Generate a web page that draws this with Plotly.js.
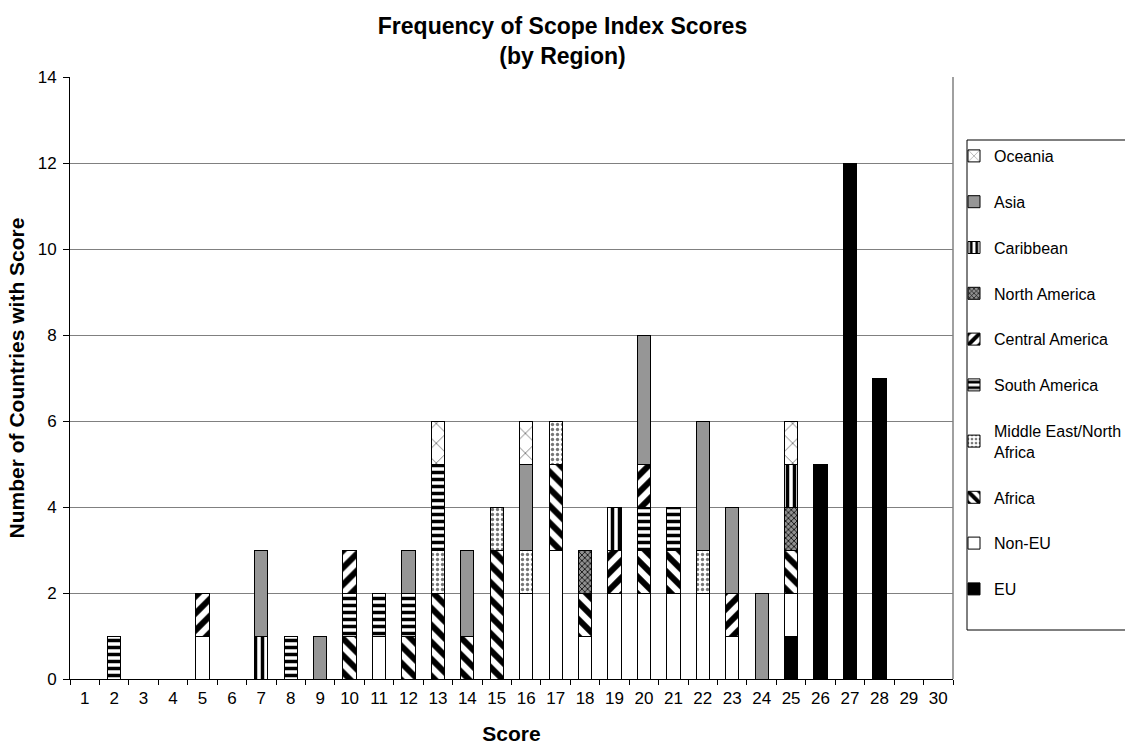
<!DOCTYPE html>
<html>
<head>
<meta charset="utf-8">
<script src="https://cdn.plot.ly/plotly-3.0.1.min.js"></script>
<style>html,body{margin:0;padding:0;background:#fff;}#chart{width:1125px;height:745px;}</style>
</head>
<body>
<div id="chart"></div>
<script>
// Scores 1..30
const scores = ['1','2','3','4','5','6','7','8','9','10','11','12','13','14','15','16','17','18','19','20','21','22','23','24','25','26','27','28','29','30'];
//                    1 2 3 4 5 6 7 8 9 10 11 12 13 14 15 16 17 18 19 20 21 22 23 24 25 26 27 28 29 30
const eu        = [0,0,0,0,0,0,0,0,0, 0, 0, 0, 0, 0, 0, 0, 0, 0, 0, 0, 0, 0, 0, 0, 1, 5,12, 7, 0, 0];
const nonEU     = [0,0,0,0,1,0,0,0,0, 0, 1, 0, 0, 0, 0, 2, 3, 1, 2, 2, 2, 2, 1, 0, 1, 0, 0, 0, 0, 0];
const africa    = [0,0,0,0,0,0,0,0,0, 1, 0, 1, 2, 1, 3, 0, 2, 1, 0, 1, 1, 0, 0, 0, 1, 0, 0, 0, 0, 0];
const mena      = [0,0,0,0,0,0,0,0,0, 0, 0, 0, 1, 0, 1, 1, 1, 0, 0, 0, 0, 1, 0, 0, 0, 0, 0, 0, 0, 0];
const southAm   = [0,1,0,0,0,0,0,1,0, 1, 1, 1, 2, 0, 0, 0, 0, 0, 0, 1, 1, 0, 0, 0, 0, 0, 0, 0, 0, 0];
const centralAm = [0,0,0,0,1,0,0,0,0, 1, 0, 0, 0, 0, 0, 0, 0, 0, 1, 1, 0, 0, 1, 0, 0, 0, 0, 0, 0, 0];
const northAm   = [0,0,0,0,0,0,0,0,0, 0, 0, 0, 0, 0, 0, 0, 0, 1, 0, 0, 0, 0, 0, 0, 1, 0, 0, 0, 0, 0];
const caribbean = [0,0,0,0,0,0,1,0,0, 0, 0, 0, 0, 0, 0, 0, 0, 0, 1, 0, 0, 0, 0, 0, 1, 0, 0, 0, 0, 0];
const asia      = [0,0,0,0,0,0,2,0,1, 0, 0, 1, 0, 2, 0, 2, 0, 0, 0, 3, 0, 3, 2, 2, 0, 0, 0, 0, 0, 0];
const oceania   = [0,0,0,0,0,0,0,0,0, 0, 0, 0, 1, 0, 0, 1, 0, 0, 0, 0, 0, 0, 0, 0, 1, 0, 0, 0, 0, 0];
const yTicks = [0,2,4,6,8,10,12,14];

const FONT = 'Liberation Sans, Arial, sans-serif';
const nz = a => a.map(v => v === 0 ? null : v);

const series = [
  {name:'EU', y:eu, color:'#000000'},
  {name:'Non-EU', y:nonEU, color:'#ffffff'},
  {name:'Africa', y:africa, color:'#ffffff', pattern:{shape:'\\', fgcolor:'#000', fgopacity:1, size:12, solidity:0.5, fillmode:'overlay'}},
  {name:'Middle East/North<br>Africa', y:mena, color:'#ffffff', pattern:{shape:'.', fgcolor:'#777', fgopacity:1, size:5, solidity:0.35, fillmode:'overlay'}},
  {name:'South America', y:southAm, color:'#ffffff', pattern:{shape:'-', fgcolor:'#000', fgopacity:1, size:7, solidity:0.5, fillmode:'overlay'}},
  {name:'Central America', y:centralAm, color:'#ffffff', pattern:{shape:'/', fgcolor:'#000', fgopacity:1, size:12, solidity:0.5, fillmode:'overlay'}},
  {name:'North America', y:northAm, color:'#909090', pattern:{shape:'x', fgcolor:'#000', fgopacity:1, size:4, solidity:0.35, fillmode:'overlay'}},
  {name:'Caribbean', y:caribbean, color:'#ffffff', pattern:{shape:'|', fgcolor:'#000', fgopacity:1, size:7, solidity:0.5, fillmode:'overlay'}},
  {name:'Asia', y:asia, color:'#969696'},
  {name:'Oceania', y:oceania, color:'#ffffff', pattern:{shape:'x', fgcolor:'#555', fgopacity:1, size:14, solidity:0.1, fillmode:'overlay'}}
];

const traces = series.map((s, i) => {
  const m = {color:s.color, line:{color:'#000', width:1}};
  if (s.pattern) m.pattern = s.pattern;
  return {type:'bar', name:s.name, x:scores, y:nz(s.y), marker:m, legendgroup:'g'+i,
          legendrank:1000 - i, hoverinfo:'name+y'};
});

const W = 1125, H = 745;
const L = 70, R = 953, T = 77, B = 679;
const layout = {
  width:W, height:H,
  paper_bgcolor:'#fff', plot_bgcolor:'#fff',
  margin:{l:L, r:W-R, t:T, b:H-B},
  barmode:'stack', bargap:0.55,
  font:{family:FONT, size:17, color:'#000'},
  title:{text:'<b>Frequency of Scope Index Scores<br>(by Region)</b>', font:{family:FONT, size:23, color:'#000'},
         x:0.5, xref:'container', xanchor:'center', y:1-34/H, yref:'container', yanchor:'top'},
  xaxis:{type:'category', tickson:'boundaries', ticks:'outside', ticklen:5, tickcolor:'#000',
         showline:true, linecolor:'#000', linewidth:1, showgrid:false, zeroline:false, automargin:false,
         ticklabelstandoff:4, tickfont:{family:FONT, size:17, color:'#000'},
         title:{text:'<b>Score</b>', font:{family:FONT, size:21, color:'#000'}, standoff:22}},
  yaxis:{range:[0,14], tickvals:yTicks, ticks:'outside', ticklen:6, tickcolor:'#000',
         showline:true, linecolor:'#000', linewidth:1, showgrid:true, gridcolor:'#808080', gridwidth:1,
         zeroline:false, automargin:false, ticklabelstandoff:3, tickfont:{family:FONT, size:17, color:'#000'},
         title:{text:'<b>Number of Countries with Score</b>', font:{family:FONT, size:21, color:'#000'}, standoff:7}},
  legend:{xref:'container', yref:'container', x:954/W, xanchor:'left', y:1-139/H, yanchor:'top',
          traceorder:'grouped', borderwidth:0, bgcolor:'rgba(0,0,0,0)', tracegroupgap:22, maxheight:700,
          font:{family:FONT, size:16, color:'#000'}, itemwidth:30},
  shapes:[
    {type:'line', xref:'paper', yref:'paper', x0:1, x1:1, y0:0, y1:1, line:{color:'#808080', width:1.5}},
    {type:'rect', xref:'paper', yref:'paper', x0:(967-L)/(R-L), x1:(1140-L)/(R-L), y0:(B-630)/(B-T), y1:(B-140)/(B-T),
     line:{color:'#000', width:1}, fillcolor:'rgba(0,0,0,0)', layer:'below'}
  ],
  showlegend:true
};

Plotly.newPlot('chart', traces, layout, {displayModeBar:false, staticPlot:true});
</script>
</body>
</html>
